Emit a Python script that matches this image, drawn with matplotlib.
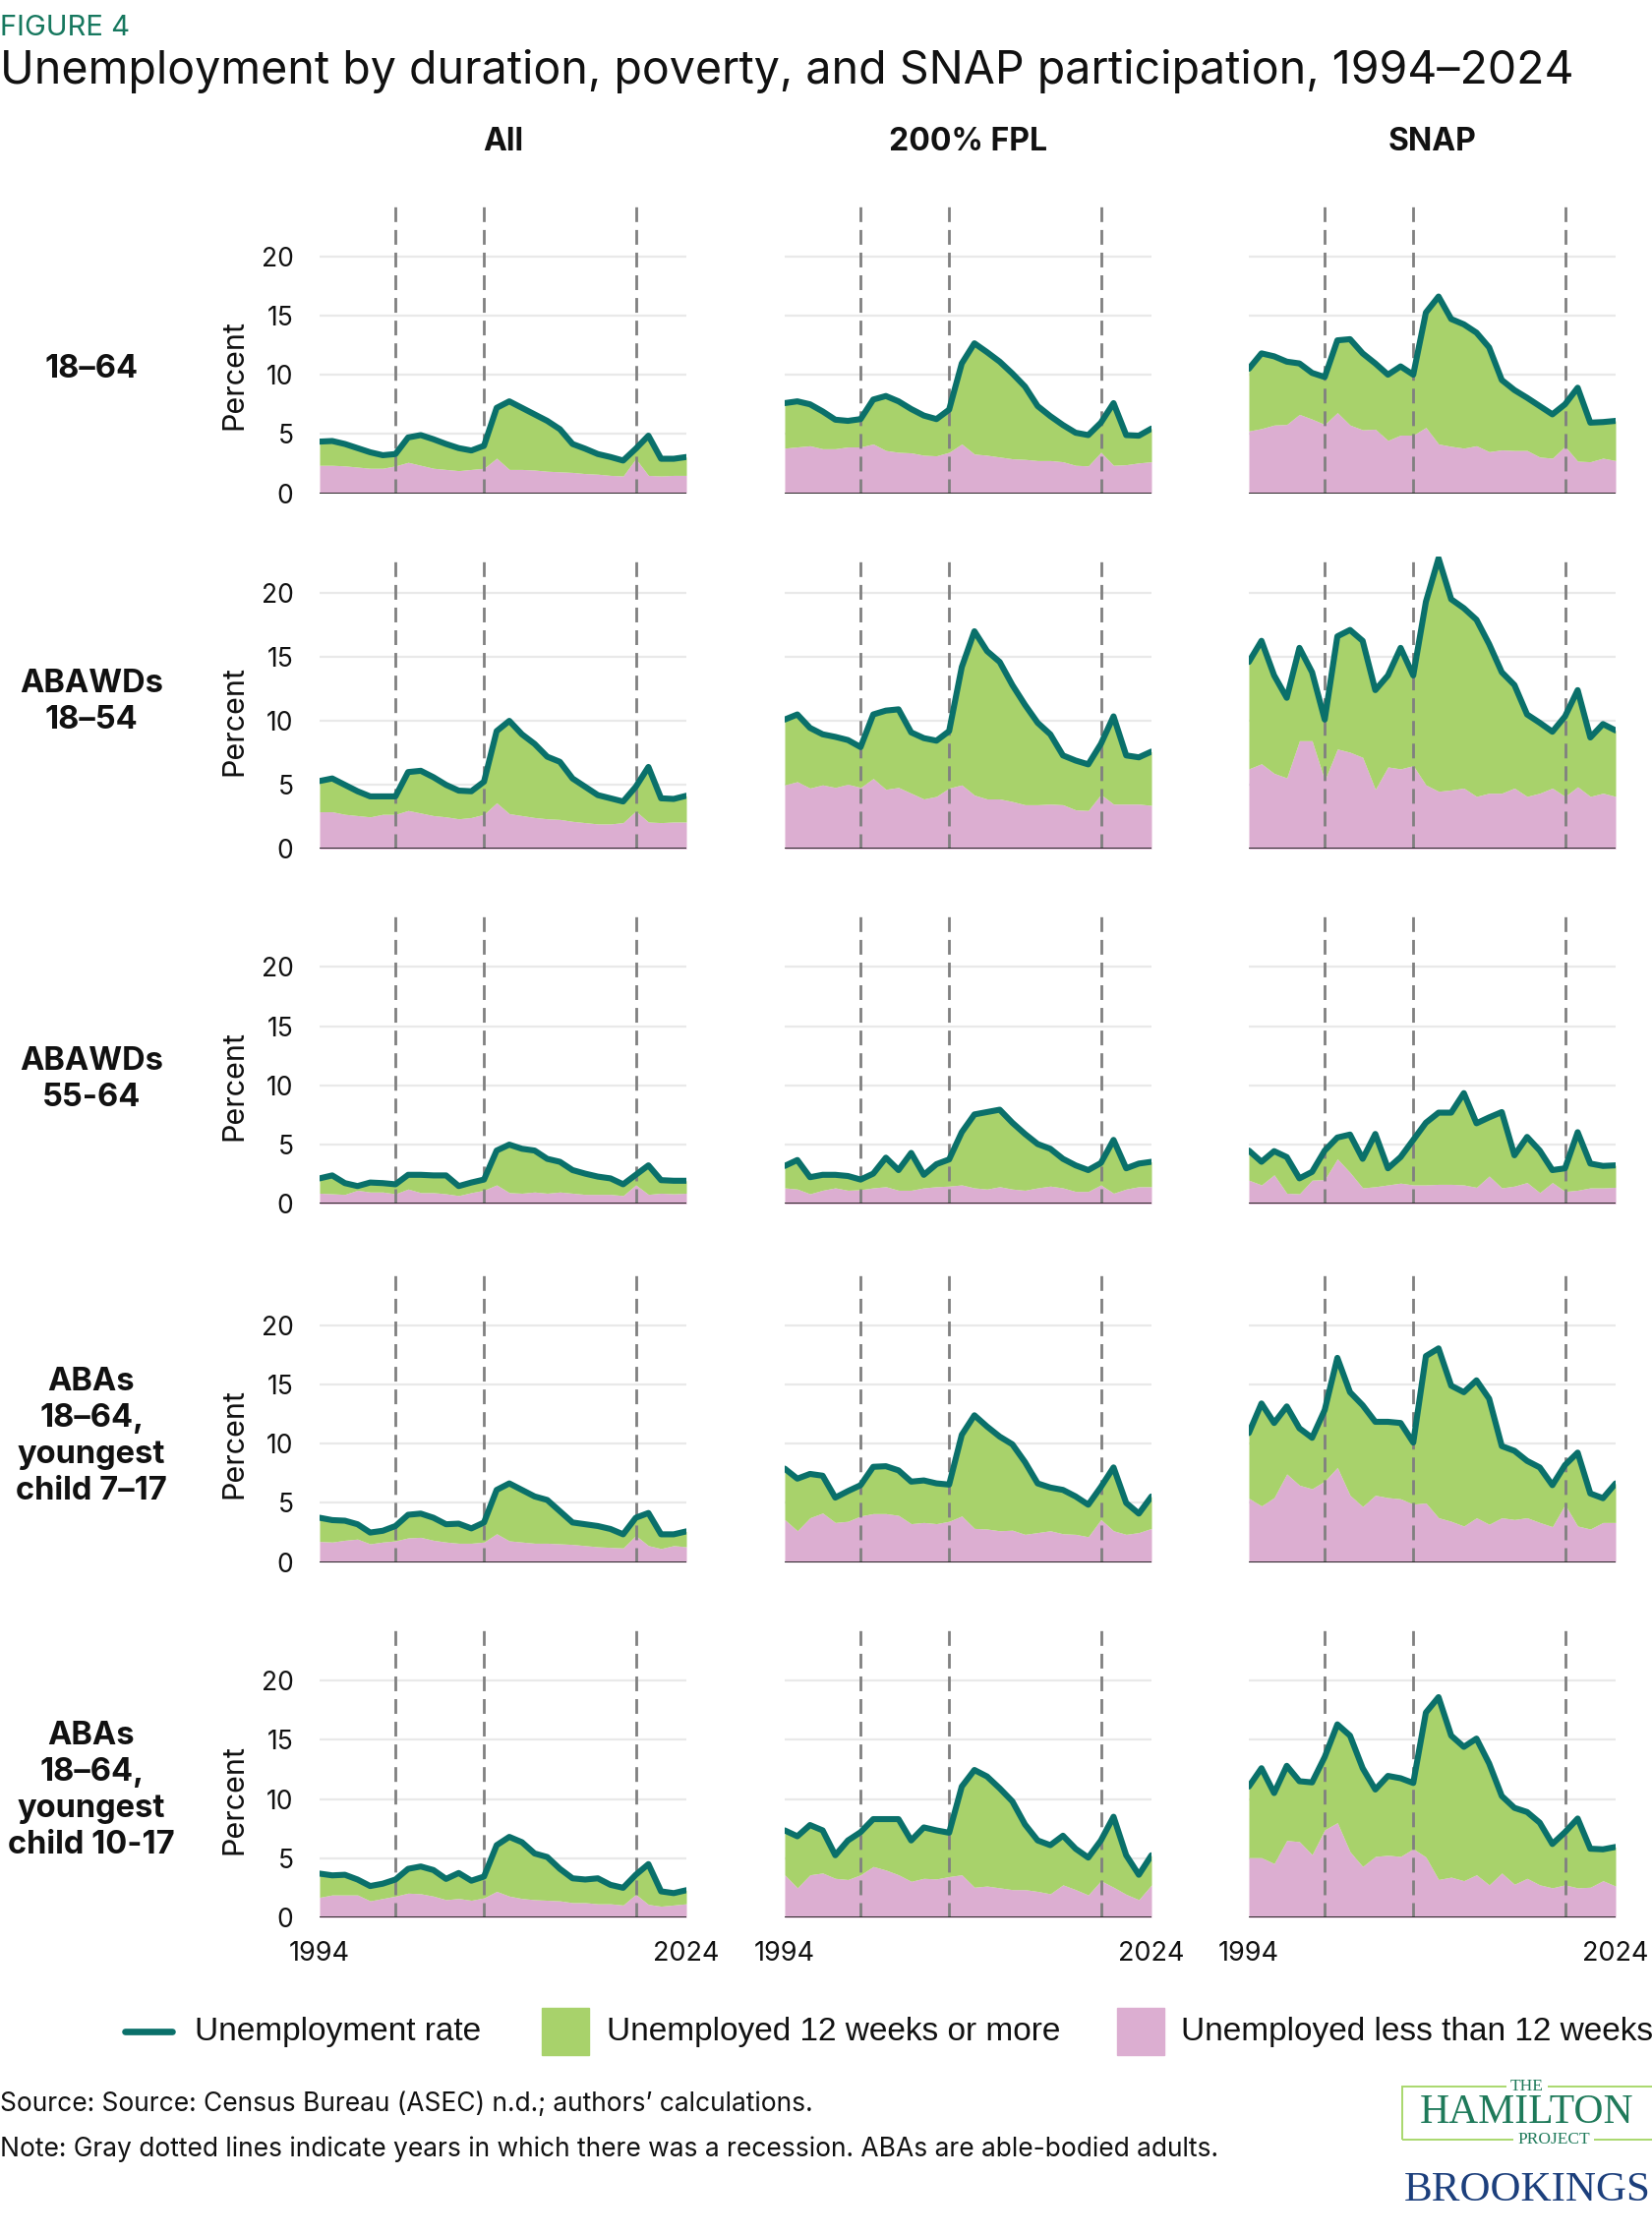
import matplotlib
matplotlib.use("Agg")
import matplotlib.pyplot as plt
from matplotlib.lines import Line2D
from matplotlib.patches import Rectangle

# ---------------- data ----------------
years = list(range(1995, 2025))
recession_years = [2001, 2008, 2020]
xtick_labels = ["1994", "2024"]
yticks = [0, 5, 10, 15, 20]

col_titles = ["All", "200% FPL", "SNAP"]
row_titles = ["18\u201364", "ABAWDs\n18\u201354", "ABAWDs\n55-64",
              "ABAs\n18\u201364,\nyoungest\nchild 7\u201317",
              "ABAs\n18\u201364,\nyoungest\nchild 10-17"]

# Row 1: 18-64
rate_all_1864 = [4.35, 4.4, 4.15, 3.8, 3.45, 3.2, 3.3, 4.7, 4.9, 4.55, 4.15, 3.8, 3.6, 4.0, 7.2, 7.75, 7.2, 6.65, 6.1, 5.4, 4.15, 3.75, 3.3, 3.05, 2.75, 3.75, 4.85, 2.9, 2.9, 3.05]
short_all_1864 = [2.35, 2.35, 2.3, 2.2, 2.1, 2.1, 2.3, 2.6, 2.35, 2.1, 2.0, 1.9, 2.0, 2.1, 2.95, 2.0, 2.0, 1.95, 1.85, 1.8, 1.75, 1.65, 1.6, 1.5, 1.45, 2.9, 1.5, 1.45, 1.5, 1.5]
rate_fpl_1864 = [7.6, 7.75, 7.5, 6.9, 6.2, 6.1, 6.25, 7.9, 8.2, 7.75, 7.1, 6.55, 6.25, 7.05, 10.95, 12.65, 11.9, 11.1, 10.1, 9.0, 7.35, 6.5, 5.75, 5.1, 4.9, 5.95, 7.6, 4.9, 4.85, 5.45]
short_fpl_1864 = [3.8, 3.9, 4.0, 3.75, 3.75, 3.9, 3.9, 4.15, 3.6, 3.45, 3.4, 3.2, 3.15, 3.45, 4.15, 3.3, 3.2, 3.05, 2.9, 2.85, 2.75, 2.75, 2.65, 2.35, 2.3, 3.45, 2.35, 2.4, 2.55, 2.65]
rate_snap_1864 = [10.5, 11.8, 11.55, 11.1, 10.95, 10.15, 9.8, 12.9, 13.0, 11.8, 10.95, 10.0, 10.7, 10.0, 15.25, 16.6, 14.7, 14.25, 13.55, 12.3, 9.55, 8.7, 8.05, 7.35, 6.65, 7.5, 8.9, 5.95, 6.0, 6.1]
short_snap_1864 = [5.25, 5.45, 5.75, 5.8, 6.65, 6.25, 5.8, 6.8, 5.75, 5.35, 5.4, 4.45, 4.9, 4.9, 5.55, 4.15, 3.95, 3.8, 4.0, 3.5, 3.65, 3.6, 3.6, 3.05, 2.95, 3.95, 2.7, 2.65, 2.95, 2.75]

# Row 2: ABAWDs 18-54
rate_all_1854 = [5.3, 5.5, 5.0, 4.5, 4.1, 4.1, 4.1, 6.0, 6.1, 5.6, 5.0, 4.55, 4.5, 5.25, 9.2, 10.0, 8.95, 8.2, 7.2, 6.8, 5.5, 4.85, 4.2, 3.95, 3.7, 4.85, 6.4, 3.95, 3.9, 4.15]
short_all_1854 = [2.9, 2.9, 2.7, 2.6, 2.5, 2.7, 2.7, 3.0, 2.8, 2.6, 2.5, 2.35, 2.45, 2.7, 3.6, 2.75, 2.6, 2.45, 2.35, 2.3, 2.15, 2.05, 1.95, 1.95, 2.05, 2.95, 2.1, 2.05, 2.1, 2.1]
rate_fpl_1854 = [10.1, 10.5, 9.45, 8.95, 8.75, 8.5, 7.95, 10.5, 10.8, 10.9, 9.1, 8.65, 8.45, 9.2, 14.2, 17.0, 15.45, 14.6, 12.8, 11.25, 9.85, 8.95, 7.3, 6.9, 6.6, 8.2, 10.35, 7.3, 7.15, 7.6]
short_fpl_1854 = [5.0, 5.25, 4.75, 5.0, 4.8, 5.05, 4.8, 5.5, 4.65, 4.8, 4.35, 3.9, 4.1, 4.75, 5.0, 4.2, 3.9, 3.9, 3.7, 3.45, 3.45, 3.5, 3.45, 3.05, 3.0, 4.25, 3.5, 3.5, 3.5, 3.4]
rate_snap_1854 = [14.6, 16.25, 13.55, 11.8, 15.7, 13.8, 10.1, 16.6, 17.1, 16.25, 12.4, 13.55, 15.7, 13.55, 19.3, 22.7, 19.5, 18.8, 17.9, 16.0, 13.8, 12.8, 10.5, 9.85, 9.15, 10.35, 12.4, 8.7, 9.75, 9.25]
short_snap_1854 = [6.25, 6.65, 5.9, 5.55, 8.45, 8.45, 5.35, 7.8, 7.55, 7.15, 4.65, 6.4, 6.25, 6.5, 5.0, 4.5, 4.6, 4.75, 4.1, 4.35, 4.35, 4.75, 4.1, 4.35, 4.75, 4.1, 4.85, 4.1, 4.35, 4.1]

# Row 3: ABAWDs 55-64
rate_all_5564 = [2.15, 2.4, 1.75, 1.5, 1.8, 1.75, 1.65, 2.45, 2.45, 2.4, 2.4, 1.5, 1.8, 2.05, 4.5, 5.0, 4.65, 4.5, 3.8, 3.55, 2.85, 2.55, 2.3, 2.15, 1.65, 2.45, 3.25, 2.0, 1.95, 1.95]
short_all_5564 = [0.9, 0.85, 0.8, 1.15, 1.0, 1.0, 0.85, 1.25, 0.95, 0.95, 0.85, 0.7, 0.95, 1.15, 1.6, 0.95, 0.9, 1.0, 0.9, 1.0, 0.9, 0.8, 0.8, 0.8, 0.7, 1.6, 0.8, 0.9, 0.85, 0.9]
rate_fpl_5564 = [3.2, 3.7, 2.25, 2.45, 2.45, 2.35, 2.05, 2.55, 3.9, 2.85, 4.3, 2.45, 3.35, 3.75, 6.05, 7.55, 7.75, 7.95, 6.85, 5.9, 5.05, 4.65, 3.8, 3.25, 2.85, 3.45, 5.4, 3.0, 3.4, 3.55]
short_fpl_5564 = [1.35, 1.25, 0.85, 1.15, 1.35, 1.15, 1.2, 1.35, 1.45, 1.15, 1.15, 1.35, 1.45, 1.5, 1.6, 1.35, 1.25, 1.45, 1.25, 1.15, 1.35, 1.5, 1.35, 1.05, 1.05, 1.6, 0.9, 1.25, 1.45, 1.45]
rate_snap_5564 = [4.5, 3.55, 4.45, 3.95, 2.15, 2.7, 4.5, 5.6, 5.85, 3.8, 5.9, 3.0, 3.95, 5.4, 6.85, 7.7, 7.7, 9.35, 6.8, 7.3, 7.75, 4.1, 5.65, 4.5, 2.85, 3.0, 6.05, 3.4, 3.2, 3.25]
short_snap_5564 = [2.0, 1.6, 2.45, 0.9, 0.85, 2.0, 2.05, 3.8, 2.65, 1.35, 1.45, 1.6, 1.75, 1.6, 1.6, 1.65, 1.65, 1.6, 1.4, 2.35, 1.35, 1.5, 1.8, 0.95, 1.8, 1.05, 1.15, 1.35, 1.35, 1.4]

# Row 4: ABAs 18-64, youngest child 7-17
rate_all_ch717 = [3.75, 3.55, 3.5, 3.2, 2.5, 2.65, 3.05, 4.0, 4.1, 3.75, 3.2, 3.25, 2.85, 3.35, 6.1, 6.65, 6.1, 5.55, 5.25, 4.3, 3.35, 3.2, 3.05, 2.8, 2.35, 3.75, 4.15, 2.35, 2.35, 2.6]
short_all_ch717 = [1.75, 1.7, 1.85, 1.95, 1.55, 1.7, 1.8, 2.05, 2.1, 1.85, 1.7, 1.6, 1.6, 1.7, 2.4, 1.8, 1.7, 1.6, 1.6, 1.55, 1.5, 1.4, 1.3, 1.25, 1.2, 2.25, 1.4, 1.15, 1.4, 1.3]
rate_fpl_ch717 = [7.9, 7.05, 7.45, 7.3, 5.45, 6.0, 6.5, 8.05, 8.1, 7.75, 6.8, 6.9, 6.65, 6.55, 10.75, 12.4, 11.45, 10.6, 9.95, 8.45, 6.65, 6.3, 6.1, 5.55, 4.85, 6.35, 8.0, 5.0, 4.1, 5.55]
short_fpl_ch717 = [3.6, 2.65, 3.75, 4.15, 3.35, 3.45, 3.9, 4.1, 4.1, 3.95, 3.25, 3.35, 3.25, 3.45, 3.9, 2.85, 2.8, 2.65, 2.7, 2.35, 2.5, 2.65, 2.4, 2.35, 2.15, 3.6, 2.65, 2.35, 2.5, 2.85]
rate_snap_ch717 = [10.9, 13.4, 11.75, 13.15, 11.3, 10.5, 12.85, 17.25, 14.35, 13.25, 11.85, 11.85, 11.75, 10.1, 17.4, 18.05, 14.9, 14.35, 15.35, 13.8, 9.8, 9.4, 8.55, 8.0, 6.5, 8.2, 9.25, 5.8, 5.4, 6.65]
short_snap_ch717 = [5.4, 4.75, 5.45, 7.45, 6.5, 6.2, 6.85, 8.0, 5.65, 4.7, 5.65, 5.45, 5.35, 4.9, 5.0, 3.75, 3.45, 3.05, 3.75, 3.2, 3.75, 3.6, 3.75, 3.35, 3.0, 4.85, 3.05, 2.8, 3.35, 3.35]

# Row 5: ABAs 18-64, youngest child 10-17
rate_all_ch1017 = [3.7, 3.55, 3.6, 3.2, 2.65, 2.85, 3.2, 4.1, 4.3, 4.0, 3.25, 3.75, 3.1, 3.45, 6.1, 6.8, 6.35, 5.4, 5.1, 4.1, 3.3, 3.2, 3.3, 2.75, 2.5, 3.6, 4.5, 2.2, 2.05, 2.3]
short_all_ch1017 = [1.7, 1.9, 1.9, 1.9, 1.4, 1.6, 1.8, 2.05, 2.0, 1.8, 1.5, 1.6, 1.45, 1.65, 2.2, 1.8, 1.6, 1.5, 1.45, 1.4, 1.25, 1.25, 1.15, 1.15, 1.05, 1.95, 1.1, 0.95, 1.05, 1.15]
rate_fpl_ch1017 = [7.35, 6.85, 7.8, 7.35, 5.25, 6.5, 7.2, 8.3, 8.3, 8.3, 6.5, 7.6, 7.35, 7.15, 11.05, 12.45, 11.9, 10.9, 9.8, 7.85, 6.5, 6.1, 6.9, 5.8, 5.05, 6.5, 8.5, 5.25, 3.6, 5.25]
short_fpl_ch1017 = [3.6, 2.5, 3.6, 3.75, 3.3, 3.2, 3.6, 4.3, 4.0, 3.6, 3.05, 3.3, 3.25, 3.45, 3.6, 2.55, 2.65, 2.5, 2.35, 2.35, 2.2, 2.0, 2.75, 2.35, 1.9, 3.1, 2.55, 1.95, 1.5, 2.75]
rate_snap_ch1017 = [11.05, 12.6, 10.5, 12.8, 11.5, 11.4, 13.55, 16.3, 15.35, 12.6, 10.8, 11.95, 11.75, 11.35, 17.3, 18.6, 15.35, 14.4, 15.1, 13.0, 10.25, 9.25, 8.9, 8.0, 6.2, 7.2, 8.35, 5.8, 5.75, 5.95]
short_snap_ch1017 = [5.05, 5.05, 4.55, 6.5, 6.4, 5.3, 7.4, 8.0, 5.55, 4.3, 5.15, 5.25, 5.15, 5.8, 5.1, 3.2, 3.4, 3.1, 3.6, 2.75, 3.75, 2.8, 3.3, 2.75, 2.5, 2.75, 2.5, 2.55, 3.1, 2.65]

panels = [
    [(rate_all_1864, short_all_1864), (rate_fpl_1864, short_fpl_1864), (rate_snap_1864, short_snap_1864)],
    [(rate_all_1854, short_all_1854), (rate_fpl_1854, short_fpl_1854), (rate_snap_1854, short_snap_1854)],
    [(rate_all_5564, short_all_5564), (rate_fpl_5564, short_fpl_5564), (rate_snap_5564, short_snap_5564)],
    [(rate_all_ch717, short_all_ch717), (rate_fpl_ch717, short_fpl_ch717), (rate_snap_ch717, short_snap_ch717)],
    [(rate_all_ch1017, short_all_ch1017), (rate_fpl_ch1017, short_fpl_ch1017), (rate_snap_ch1017, short_snap_ch1017)],
]

# ---------------- style / layout ----------------
TEAL = "#0a706a"
GREEN = "#a8d26b"
PINK = "#dcaed1"
DASH = "#808080"
GRID = "#e9e9e9"
FONT = ["Inter", "DejaVu Sans"]

W, H = 1680, 2274
col_left = [325, 798, 1270]
ax_w = 373
row_bottom = [501.5, 863.3, 1224.3, 1588.7, 1950]
ax_h = 297.5
row_ytop = [24.7, 22.85, 24.7, 24.7, 24.7]
row_label_y = [376, 714, 1098, 1461, 1821]

plt.rcParams["font.family"] = FONT
fig = plt.figure(figsize=(W / 100, H / 100), dpi=100)
fig.patch.set_facecolor("white")


def fx(x):
    return x / W


def fy(y):
    return 1 - y / H


for r in range(5):
    for c in range(3):
        ax = fig.add_axes([fx(col_left[c]), fy(row_bottom[r]), ax_w / W, ax_h / H])
        rate, short = panels[r][c]
        ax.fill_between(years, 0, short, color=PINK, lw=0, zorder=2)
        ax.fill_between(years, short, rate, color=GREEN, lw=0, zorder=2)
        for yv in yticks[1:]:
            ax.axhline(yv, color=GRID, lw=1.6, zorder=0)
        for ry in recession_years:
            ax.axvline(ry, color=DASH, lw=2.0, ls=(0, (5.4, 2.9)), zorder=3)
        ax.plot(years, rate, color=TEAL, lw=4.4, solid_joinstyle="round",
                solid_capstyle="round", zorder=4)
        ax.axhline(0, color="#1a1a1a", lw=2.0, zorder=5)
        ax.set_xlim(years[0], years[-1])
        ax.set_ylim(0, row_ytop[r])
        for s in ax.spines.values():
            s.set_visible(False)
        ax.set_facecolor("none")
        ax.set_yticks(yticks)
        if c == 0:
            ax.set_yticklabels([str(v) for v in yticks])
            ax.tick_params(axis="y", length=0, pad=19, labelsize=19, labelcolor="#111111")
        else:
            ax.set_yticklabels([])
            ax.tick_params(axis="y", length=0)
        if r == 4:
            ax.set_xticks([years[0], years[-1]])
            ax.set_xticklabels(xtick_labels)
            ax.tick_params(axis="x", length=0, pad=17, labelsize=19.5, labelcolor="#111111")
        else:
            ax.set_xticks([])
        if c == 0:
            y10 = row_bottom[r] - 10 * ax_h / row_ytop[r]
            fig.text(fx(238), fy(y10), "Percent", rotation=90, ha="center", va="center",
                     fontsize=22, color="#111111")

# row labels
for r in range(5):
    fig.text(fx(93), fy(row_label_y[r]), row_titles[r], ha="center", va="center",
             fontsize=23.5, fontweight="bold", linespacing=1.25, color="#111111")

# column titles
for c in range(3):
    fig.text(fx(col_left[c] + ax_w / 2), fy(153), col_titles[c], ha="center", va="baseline",
             fontsize=23, fontweight="bold", color="#111111")

# header
fig.text(0.0, fy(36), "FIGURE 4", ha="left", va="baseline", fontsize=21, color="#17785f")
fig.text(0.0, fy(85), "Unemployment by duration, poverty, and SNAP participation, 1994\u20132024",
         ha="left", va="baseline", fontsize=33.5, color="#111111")

# legend
LEG_FONT = ["Liberation Sans", "DejaVu Sans"]
ly = 2066
fig.add_artist(Line2D([fx(127), fx(175)], [fy(ly), fy(ly)], color=TEAL, lw=4.8,
                      solid_capstyle="round", transform=fig.transFigure))
fig.text(fx(198), fy(ly), "Unemployment rate", ha="left", va="center", fontsize=24,
         family=LEG_FONT, color="#111111")
fig.add_artist(Rectangle((fx(551), fy(2090)), 48 / W, 48 / H, color=GREEN,
                         transform=fig.transFigure))
fig.text(fx(617), fy(ly), "Unemployed 12 weeks or more", ha="left", va="center", fontsize=24,
         family=LEG_FONT, color="#111111")
fig.add_artist(Rectangle((fx(1136), fy(2090)), 48 / W, 48 / H, color=PINK,
                         transform=fig.transFigure))
fig.text(fx(1201), fy(ly), "Unemployed less than 12 weeks", ha="left", va="center", fontsize=24,
         family=LEG_FONT, color="#111111")

# source / note
fig.text(0.0, fy(2140), "Source: Source: Census Bureau (ASEC) n.d.; authors\u2019 calculations.",
         ha="left", va="center", fontsize=19, color="#111111")
fig.text(0.0, fy(2186), "Note: Gray dotted lines indicate years in which there was a recession. "
         "ABAs are able-bodied adults.", ha="left", va="center", fontsize=19, color="#111111")

# logos
SERIF = ["Liberation Serif", "DejaVu Serif"]
HGREEN = "#1f7a5a"
fig.add_artist(Rectangle((fx(1426), fy(2176)), (1700 - 1426) / W, 54 / H, fill=False,
                         edgecolor="#a9d86e", lw=1.4, transform=fig.transFigure))
wb = dict(facecolor="white", edgecolor="none", pad=3)
fig.text(fx(1553), fy(2122), "THE", ha="center", va="center", fontsize=12.5, family=SERIF,
         color=HGREEN, bbox=wb)
fig.text(fx(1553), fy(2149), "HAMILTON", ha="center", va="center", fontsize=30, family=SERIF,
         color=HGREEN)
fig.text(fx(1580), fy(2176), "PROJECT", ha="center", va="center", fontsize=12.5, family=SERIF,
         color=HGREEN, bbox=wb)
fig.text(fx(1553), fy(2228), "BROOKINGS", ha="center", va="center", fontsize=31, family=SERIF,
         color="#1c3f7c")

fig.savefig("out.png", dpi=100, facecolor="white")
